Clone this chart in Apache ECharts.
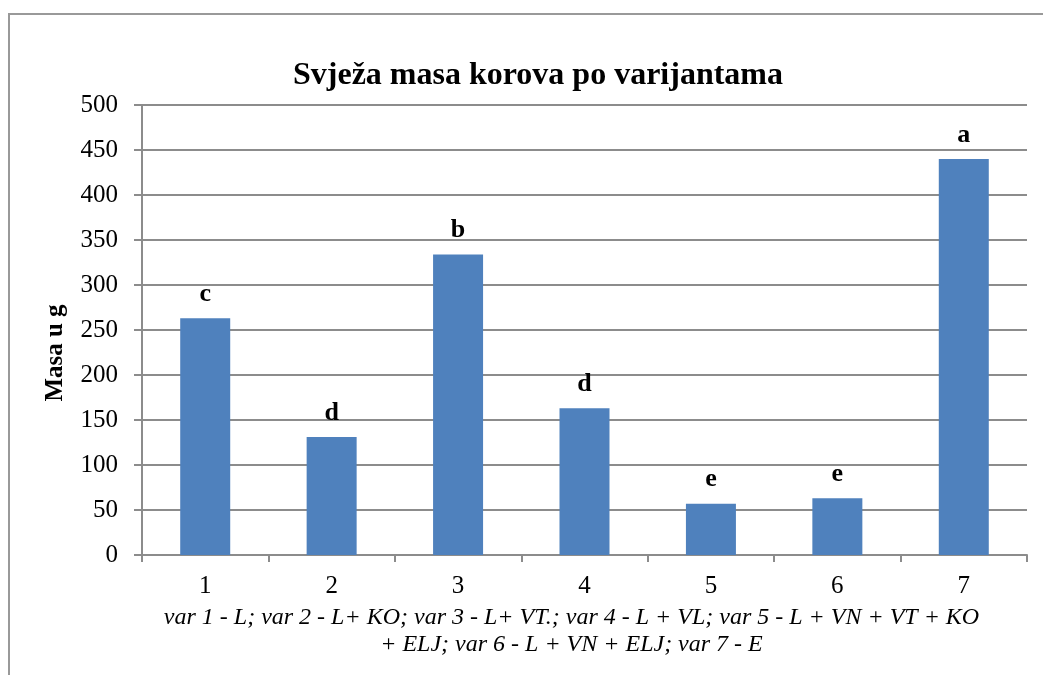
<!DOCTYPE html>
<html>
<head>
<meta charset="utf-8">
<script src="https://cdn.jsdelivr.net/npm/echarts@6/dist/echarts.min.js"></script>
<style>
  html, body { margin: 0; padding: 0; background: #fff; }
  #chart { width: 1043px; height: 675px; }
</style>
</head>
<body>
<div id="chart"></div>
<script>
// data
var varijante = ['1', '2', '3', '4', '5', '6', '7'];
var masa = [263, 131, 334, 163, 57, 63, 440];
var slova = ['c', 'd', 'b', 'd', 'e', 'e', 'a'];

var serif = '"Liberation Serif", "Times New Roman", serif';
var gray = '#8c8c8c';

var chart = echarts.init(document.getElementById('chart'));
chart.setOption({
  animation: false,
  title: {
    text: 'Svježa masa korova po varijantama',
    left: 533,
    top: 55,
    textAlign: 'center',
    textStyle: { fontFamily: serif, fontSize: 32, fontWeight: 'bold', color: '#000' }
  },
  graphic: [
    {
      type: 'rect',
      shape: { x: 9, y: 14, width: 1060, height: 700 },
      style: { fill: 'none', stroke: '#999', lineWidth: 2 },
      silent: true
    },
    {
      type: 'text',
      x: 56,
      y: 353,
      rotation: Math.PI / 2,
      style: {
        text: 'Masa u g',
        font: 'bold 25px ' + serif,
        fill: '#000',
        align: 'center',
        verticalAlign: 'middle'
      }
    }
  ],
  grid: { left: 142, right: 16, top: 105, bottom: 120 },
  xAxis: {
    type: 'category',
    data: varijante,
    axisLine: { lineStyle: { color: gray, width: 2 } },
    axisTick: { show: true, length: 7, lineStyle: { color: gray, width: 2 } },
    axisLabel: { fontFamily: serif, fontSize: 25, color: '#000', margin: 19 },
    name: 'var 1 - L; var 2 - L+ KO; var 3 - L+ VT.; var 4 - L + VL; var 5 - L + VN + VT + KO\n+ ELJ; var 6 - L + VN + ELJ; var 7 - E',
    nameLocation: 'middle',
    nameGap: 45,
    nameTextStyle: {
      fontFamily: serif, fontSize: 24, fontStyle: 'italic', color: '#000',
      lineHeight: 27, padding: [0, 26, 0, 0]
    }
  },
  yAxis: {
    type: 'value',
    min: 0,
    max: 500,
    interval: 50,
    axisLine: { show: true, lineStyle: { color: gray, width: 2 } },
    axisTick: { show: true, length: 8, lineStyle: { color: gray, width: 2 } },
    axisLabel: { fontFamily: serif, fontSize: 25, color: '#000', margin: 24 },
    splitLine: { lineStyle: { color: gray, width: 2 } }
  },
  series: [{
    type: 'bar',
    data: masa,
    barWidth: 50,
    itemStyle: { color: '#4f81bd' },
    label: {
      show: true,
      position: 'top',
      distance: 11,
      formatter: function (p) { return slova[p.dataIndex]; },
      fontFamily: serif,
      fontSize: 26,
      fontWeight: 'bold',
      color: '#000'
    }
  }]
});
</script>
</body>
</html>
